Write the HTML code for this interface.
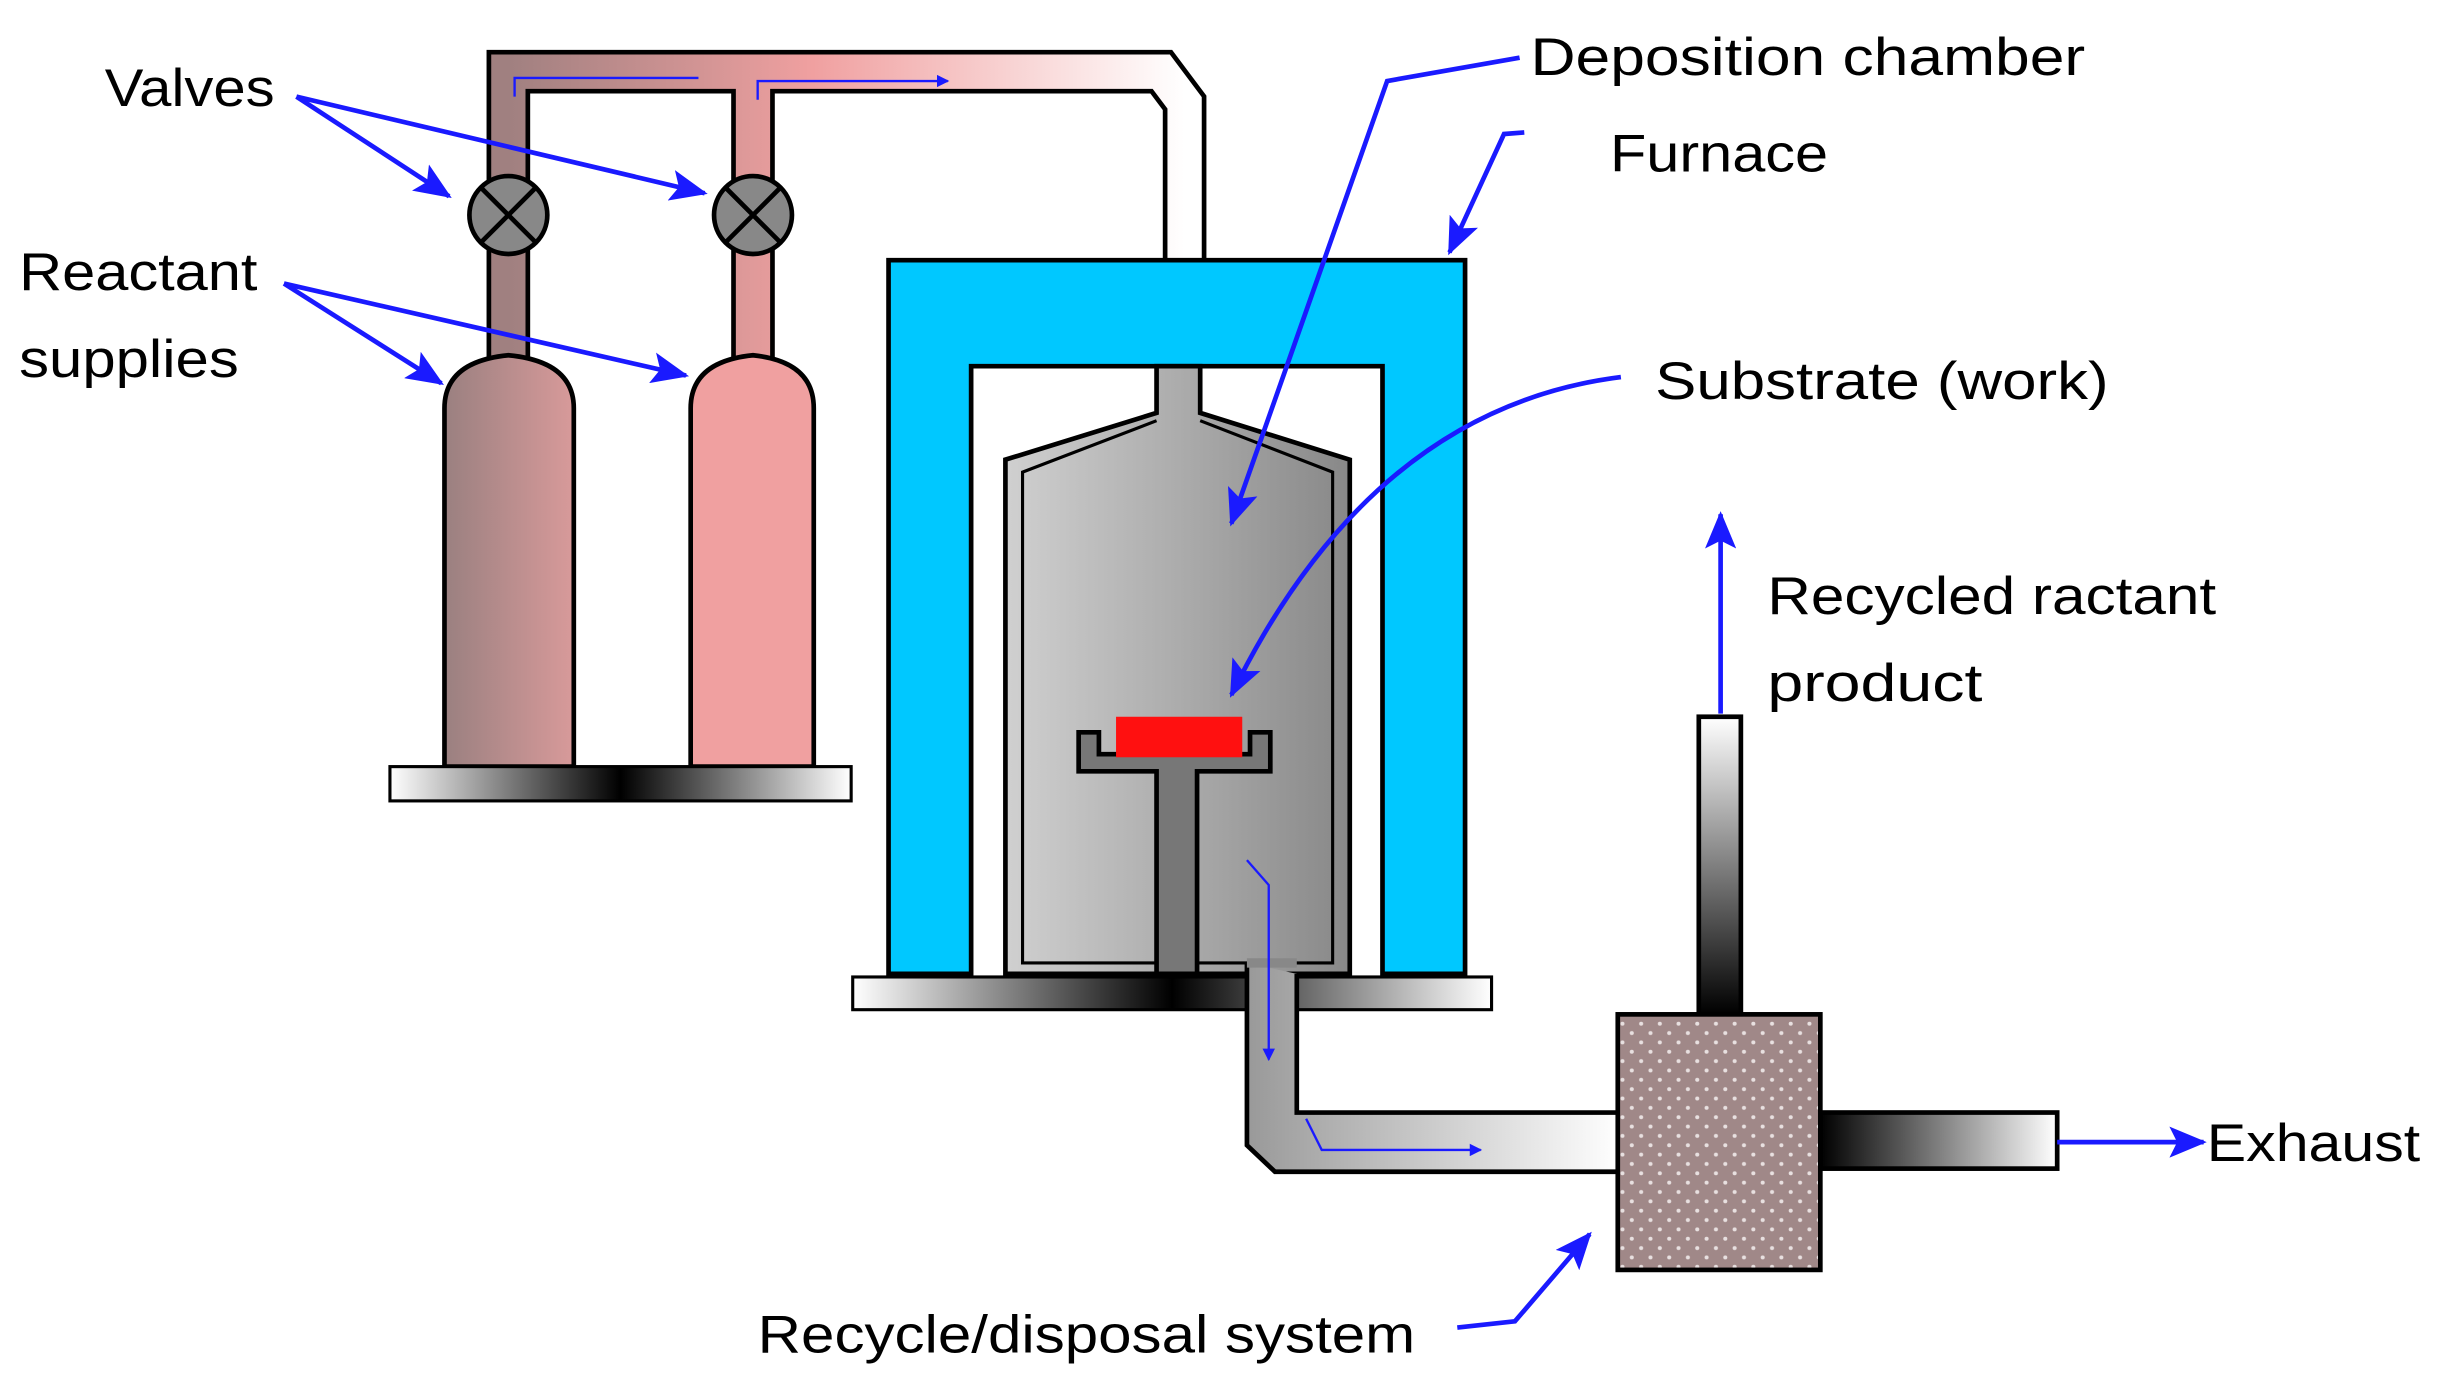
<!DOCTYPE html>
<html><head><style>html,body{margin:0;padding:0;background:#fff;}svg{display:block}</style></head>
<body>
<svg width="2444" height="1393" viewBox="0 0 1568 894" xmlns="http://www.w3.org/2000/svg" font-family="Liberation Sans, sans-serif">
<defs>
<linearGradient id="pipeG" x1="0" x2="1" y1="0" y2="0"><stop offset="0" stop-color="#a08080"/><stop offset="0.45" stop-color="#f0a0a0"/><stop offset="1" stop-color="#ffffff"/></linearGradient>
<linearGradient id="cylL" x1="0" x2="1"><stop offset="0" stop-color="#9a8080"/><stop offset="1" stop-color="#d89a9a"/></linearGradient>
<linearGradient id="plate" x1="0" x2="1"><stop offset="0" stop-color="#fff"/><stop offset="0.5" stop-color="#000"/><stop offset="1" stop-color="#fff"/></linearGradient>
<linearGradient id="cham" x1="0" x2="1"><stop offset="0" stop-color="#d0d0d0"/><stop offset="1" stop-color="#888"/></linearGradient>
<linearGradient id="exh" x1="0" x2="1"><stop offset="0" stop-color="#999"/><stop offset="1" stop-color="#fff"/></linearGradient>
<linearGradient id="topP" x1="0" x2="0" y1="0" y2="1"><stop offset="0" stop-color="#fff"/><stop offset="1" stop-color="#000"/></linearGradient>
<linearGradient id="rP" x1="0" x2="1"><stop offset="0" stop-color="#000"/><stop offset="1" stop-color="#fff"/></linearGradient>
<pattern id="dots" width="12" height="12" patternUnits="userSpaceOnUse"><rect width="12" height="12" fill="#a08888"/><circle cx="3" cy="3" r="1.3" fill="#e8e0e0"/><circle cx="9" cy="9" r="1.3" fill="#e8e0e0"/></pattern>
<marker id="ah" markerWidth="8" markerHeight="8" refX="7" refY="4" orient="auto" markerUnits="userSpaceOnUse" viewBox="0 0 8 8"><path d="M0,0 L8,4 L0,8 z" fill="#1a1aff"/></marker>
<marker id="ab" markerWidth="24" markerHeight="20" refX="22" refY="10" orient="auto" markerUnits="userSpaceOnUse"><path d="M0,0 L24,10 L0,20 L5,10 z" fill="#1a1aff"/></marker>
</defs>
<path d="M326,230 V46 H745 L760,66 V170 M483,46 V230" fill="none" stroke="#000" stroke-width="28" stroke-linejoin="miter"/>
<path d="M326,230 V46 H745 L760,66 V170 M483,46 V230" fill="none" stroke="url(#pipeG)" stroke-width="22" stroke-linejoin="miter"/>
<path d="M330,62 V50 H448 M486,64 V52 H608" fill="none" stroke="#1a1aff" stroke-width="1.5" marker-end="url(#ah)"/>
<g stroke="#000" stroke-width="3"><circle cx="326" cy="138" r="25" fill="#888"/><path d="M309,121 L343,155 M343,121 L309,155"/>
<circle cx="483" cy="138" r="25" fill="#888"/><path d="M466,121 L500,155 M500,121 L466,155"/></g>
<path d="M285,492 V262 Q285,232 326,228 Q368,232 368,262 V492 Z" fill="url(#cylL)" stroke="#000" stroke-width="3"/>
<path d="M443,492 V262 Q443,232 483,228 Q522,232 522,262 V492 Z" fill="#f0a0a0" stroke="#000" stroke-width="3"/>
<rect x="250" y="492" width="296" height="22" fill="url(#plate)" stroke="#000" stroke-width="2"/>
<path d="M570,167 H940 V625 H887 V235 H623 V625 H570 Z" fill="#00c8ff" stroke="#000" stroke-width="3"/>
<path d="M742,235 V265 L645,295 V625 H866 V295 L770,265 V235 Z" fill="url(#cham)" stroke="#000" stroke-width="3"/>
<path d="M742,270 L656,303 V618 H855 V303 L770,270" fill="none" stroke="#000" stroke-width="2"/>
<rect x="547" y="627" width="410" height="21" fill="url(#plate)" stroke="#000" stroke-width="2"/>
<path d="M692,495 V470 H705 V484 H802 V470 H815 V495 H768 V625 H742 V495 Z" fill="#777" stroke="#000" stroke-width="3"/>
<rect x="716" y="460" width="81" height="26" fill="#ff1010"/>
<path d="M800,618 V735 L818,752 H1040 V714 H832 V625" fill="url(#exh)" stroke="#000" stroke-width="3"/>
<path d="M800,618 H832" stroke="#888" stroke-width="6"/>
<path d="M800,552 L814,568 V680" fill="none" stroke="#1a1aff" stroke-width="1.5" marker-end="url(#ah)"/>
<path d="M838,718 L848,738 H950" fill="none" stroke="#1a1aff" stroke-width="1.5" marker-end="url(#ah)"/>
<rect x="1090" y="460" width="27" height="191" fill="url(#topP)" stroke="#000" stroke-width="3"/>
<rect x="1168" y="714" width="152" height="36" fill="url(#rP)" stroke="#000" stroke-width="3"/>
<rect x="1038" y="651" width="130" height="164" fill="url(#dots)" stroke="#000" stroke-width="3"/>
<g stroke="#1a1aff" stroke-width="3" fill="none" marker-end="url(#ab)">
<path d="M190,62 L288,126"/><path d="M190,62 L452,124"/>
<path d="M182,182 L283,246"/><path d="M182,182 L440,241"/>
<path d="M975,37 L890,52 L790,336"/>
<path d="M978,85 L965,86 L930,162"/>
<path d="M1040,242 Q880,262 790,446"/>
<path d="M1104,458 V330"/>
<path d="M1320,733 H1414"/>
<path d="M935,852 L972,848 L1020,792"/>
</g>
<g font-size="34" fill="#000" lengthAdjust="spacingAndGlyphs">
<text x="67" y="68" textLength="109" lengthAdjust="spacingAndGlyphs">Valves</text>
<text x="12" y="186" textLength="153" lengthAdjust="spacingAndGlyphs">Reactant</text>
<text x="12" y="242" textLength="141" lengthAdjust="spacingAndGlyphs">supplies</text>
<text x="982" y="48" textLength="356" lengthAdjust="spacingAndGlyphs">Deposition chamber</text>
<text x="1033" y="110" textLength="140" lengthAdjust="spacingAndGlyphs">Furnace</text>
<text x="1062" y="256" textLength="291" lengthAdjust="spacingAndGlyphs">Substrate (work)</text>
<text x="1134" y="394" textLength="288" lengthAdjust="spacingAndGlyphs">Recycled ractant</text>
<text x="1134" y="450" textLength="138" lengthAdjust="spacingAndGlyphs">product</text>
<text x="1416" y="745" textLength="137" lengthAdjust="spacingAndGlyphs">Exhaust</text>
<text x="486" y="868" textLength="422" lengthAdjust="spacingAndGlyphs">Recycle/disposal system</text>
</g>
</svg>
</body></html>
